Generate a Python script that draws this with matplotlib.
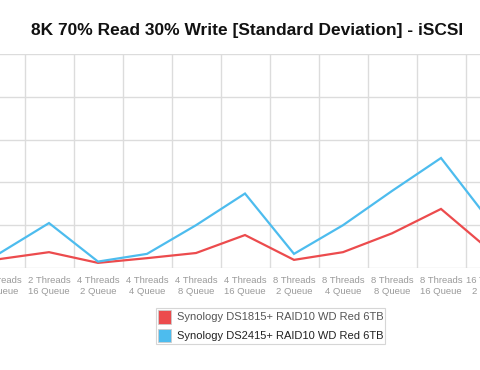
import matplotlib
matplotlib.use("Agg")
import matplotlib.pyplot as plt
from matplotlib.patches import Patch
from matplotlib.ticker import FixedLocator

plt.rcParams['font.family'] = ['Liberation Sans', 'DejaVu Sans']

categories = ["2 Threads\n8 Queue", "2 Threads\n16 Queue", "4 Threads\n2 Queue",
              "4 Threads\n4 Queue", "4 Threads\n8 Queue", "4 Threads\n16 Queue",
              "8 Threads\n2 Queue", "8 Threads\n4 Queue", "8 Threads\n8 Queue",
              "8 Threads\n16 Queue", "16 Threads\n2 Queue"]
ds1815 = [0.21, 0.37, 0.12, 0.23, 0.35, 0.77, 0.19, 0.37, 0.81, 1.38, 0.41]
ds2415 = [0.35, 1.05, 0.15, 0.33, 1.00, 1.74, 0.33, 1.00, 1.80, 2.57, 1.09]
series_names = ["Synology DS1815+ RAID10 WD Red 6TB", "Synology DS2415+ RAID10 WD Red 6TB"]
colors = ["#ec4b4d", "#4dbcee"]
title = "8K 70% Read 30% Write [Standard Deviation] - iSCSI"

W, H = 480, 370
fig = plt.figure(figsize=(W / 100, H / 100), dpi=100)
# axes partially outside the figure (cropped chart)
left_px, right_px = -24.5, 514.5
top_px, bot_px = 54, 268
ax = fig.add_axes([left_px / W, 1 - bot_px / H, (right_px - left_px) / W, (bot_px - top_px) / H])
x = list(range(len(categories)))
ax.plot(x, ds1815, color=colors[0], lw=1.6, zorder=3, solid_joinstyle='miter')
ax.plot(x, ds2415, color=colors[1], lw=1.6, zorder=4, solid_joinstyle='miter')
ax.set_xlim(-0.5, len(categories) - 0.5)
ax.set_ylim(0, 5)
ax.set_xticks(x)
ax.set_xticklabels(categories, fontsize=6.8, color="#9a9a9a", linespacing=1.4)
ax.xaxis.set_minor_locator(FixedLocator([i + 0.5 for i in range(-1, len(categories))]))
ax.set_yticks(range(6))
ax.set_yticklabels([])
ax.tick_params(axis='both', which='both', length=0)
ax.tick_params(axis='x', pad=5.5)
ax.grid(True, axis='x', which='minor', color="#dcdcdc", lw=1)
ax.grid(True, axis='y', which='major', color="#dcdcdc", lw=1)
ax.grid(False, axis='x', which='major')
for s in ax.spines.values():
    s.set_visible(False)
ax.set_axisbelow(True)

fig.text(247.5 / W, 1 - 30 / H, title, ha='center', va='center', fontsize=12.5,
         fontweight='bold', color='#111111')

handles = [Patch(facecolor=c, edgecolor='#cccccc', lw=0.6) for c in colors]
leg = fig.legend(handles, series_names, loc='center',
                 bbox_to_anchor=((155 + 386) / 2 / W, 1 - (307 + 345) / 2 / H),
                 fontsize=8, frameon=True, fancybox=False, handlelength=1.2,
                 handleheight=1.5, handletextpad=0.5, borderpad=0.15, labelspacing=0.45)
leg.get_frame().set_edgecolor('#cccccc')
leg.get_frame().set_linewidth(0.8)
leg.get_texts()[0].set_color('#555555')
leg.get_texts()[1].set_color('#222222')

fig.savefig("out.png", dpi=100)
